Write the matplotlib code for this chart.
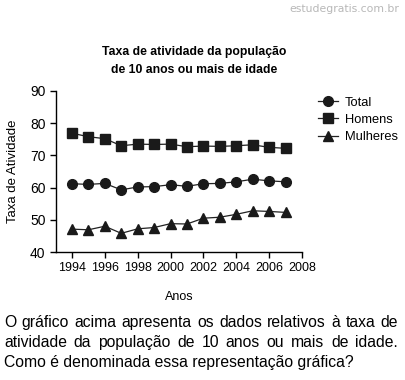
import matplotlib
matplotlib.use("Agg")
import matplotlib.pyplot as plt

plt.rcParams['font.family'] = ['Liberation Sans', 'DejaVu Sans']

years = [1994, 1995, 1996, 1997, 1998, 1999, 2000, 2001, 2002, 2003, 2004, 2005, 2006, 2007]
total = [61.2, 61.0, 61.3, 59.3, 60.2, 60.3, 60.9, 60.4, 61.2, 61.3, 61.8, 62.6, 62.1, 61.8]
homens = [76.9, 75.8, 75.2, 73.0, 73.5, 73.4, 73.5, 72.7, 72.9, 72.8, 73.0, 73.3, 72.5, 72.2]
mulheres = [47.1, 46.9, 48.0, 45.8, 47.2, 47.6, 48.8, 48.7, 50.5, 50.8, 51.7, 52.8, 52.6, 52.3]
xticks = [1994, 1996, 1998, 2000, 2002, 2004, 2006, 2008]
yticks = [40, 50, 60, 70, 80, 90]
question = ["O gráfico acima apresenta os dados relativos à taxa de",
            "atividade da população de 10 anos ou mais de idade.",
            "Como é denominada essa representação gráfica?"]

W, H = 406, 380
fig = plt.figure(figsize=(W/100, H/100), dpi=100)
ax = fig.add_axes([56/W, 1-252/H, (302-56)/W, (252-91)/H])

ax.plot(years, total, color='#222222', lw=0.9, marker='o', ms=7, mfc='#1a1a1a', mec='#1a1a1a', label='Total')
ax.plot(years, homens, color='#222222', lw=0.9, marker='s', ms=7.5, mfc='#1a1a1a', mec='#1a1a1a', label='Homens')
ax.plot(years, mulheres, color='#222222', lw=0.9, marker='^', ms=7.5, mfc='#1a1a1a', mec='#1a1a1a', label='Mulheres')

ax.set_xlim(1993.03, 2008)
ax.set_ylim(40, 90)
ax.set_xticks(xticks)
ax.set_yticks(yticks)
ax.tick_params(labelsize=9, length=4, width=1, direction='out', colors='black')
ax.tick_params(axis='y', labelsize=10)
for s in ['top', 'right']:
    ax.spines[s].set_visible(False)
for s in ['left', 'bottom']:
    ax.spines[s].set_linewidth(1)

ax.set_xlabel('Anos', fontsize=9, labelpad=12)
ax.set_ylabel('Taxa de Atividade', fontsize=9.5, labelpad=8)

fig.legend(loc='upper left', bbox_to_anchor=(306/W, 1-85/H), frameon=False, fontsize=9.3,
           handlelength=1.6, handletextpad=0.5, labelspacing=0.4)

fig.text(194/W, 1-52/H, 'Taxa de atividade da população', ha='center', va='center',
         fontsize=8.8, fontweight='bold')
fig.text(194/W, 1-70/H, 'de 10 anos ou mais de idade', ha='center', va='center',
         fontsize=8.8, fontweight='bold')

fig.text(399/W, 1-9/H, 'estudegratis.com.br', ha='right', va='center', fontsize=7.8,
         color='#b8b8b8', family=['DejaVu Sans'])

# question text, justified for first two lines
fig.canvas.draw()
renderer = fig.canvas.get_renderer()
baselines = [327, 347, 367]
left, right = 4, 398
qfont = dict(fontsize=11.3, va='baseline')
for i, line in enumerate(question):
    y = 1 - baselines[i]/H
    if i < 2:
        words = line.split(' ')
        tmp = [fig.text(0, y, w, **qfont) for w in words]
        widths = [t.get_window_extent(renderer).width for t in tmp]
        gap = (right - left - sum(widths)) / (len(words) - 1)
        x = left
        for t, w in zip(tmp, widths):
            t.set_x(x / W)
            x += w + gap
    else:
        fig.text(left/W, y, line, **qfont)

fig.savefig('out.png', dpi=100)
